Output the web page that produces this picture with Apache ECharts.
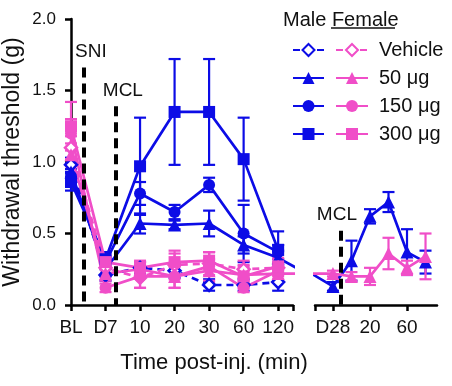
<!DOCTYPE html>
<html>
<head>
<meta charset="utf-8">
<script src="https://cdn.jsdelivr.net/npm/echarts@6/dist/echarts.min.js"></script>
<style>
html,body{margin:0;padding:0;background:#fff;}
#chart{width:452px;height:386px;}
</style>
</head>
<body>
<div id="chart"></div>
<script>
// ---------- data ----------
const leftCats = ['BL', 'D7', '10', '20', '30', '60', '120'];
const leftX = [0, 1, 2, 3, 4, 5, 6];
const rightCats = ['D28', '10', '20', '30', '60', '120'];
const rightX = [0, 1, 2, 3, 4, 5];
const rightLabelX = [0, 2, 4];
const yTicks = [0, 0.5, 1.0, 1.5, 2.0];

const maleVeh = [0.98, 0.21, 0.26, 0.24, 0.14, 0.14, 0.16];
const maleVehErr = [0.05, 0.04, 0.04, 0.05, 0.04, 0.04, 0.06];
const male50 = [0.93, 0.25, 0.57, 0.56, 0.57, 0.42, 0.33];
const male50Err = [0.06, 0.05, 0.07, 0.03, 0.09, 0.06, 0.05];
const male150 = [0.90, 0.30, 0.78, 0.65, 0.84, 0.50, 0.37];
const male150Err = [0.05, 0.04, 0.08, 0.05, 0.05, 0.20, 0.05];
const male300 = [0.86, 0.32, 0.97, 1.35, 1.35, 1.02, 0.385];
const male300Err = [0.06, 0.05, 0.34, 0.37, 0.37, 0.29, 0.13];

const femVeh = [1.10, 0.26, 0.19, 0.28, 0.29, 0.25, 0.26];
const femVehErr = [0.08, 0.06, 0.07, 0.10, 0.08, 0.06, 0.06];
const fem50 = [1.05, 0.22, 0.25, 0.20, 0.24, 0.21, 0.22];
const fem50Err = [0.08, 0.05, 0.05, 0.08, 0.08, 0.06, 0.05];
const fem150 = [1.20, 0.12, 0.20, 0.20, 0.27, 0.12, 0.24];
const fem150Err = [0.10, 0.03, 0.08, 0.08, 0.10, 0.03, 0.06];
const fem300 = [1.25, 0.30, 0.26, 0.30, 0.31, 0.20, 0.27];
const fem300Err = [0.17, 0.05, 0.05, 0.06, 0.06, 0.08, 0.06];

const male50D28 = [0.13, 0.31, 0.62, 0.72, 0.37, 0.30];
const male50D28Err = [0.03, 0.14, 0.05, 0.07, 0.16, 0.08];
const fem50D28 = [0.22, 0.20, 0.20, 0.36, 0.26, 0.34];
const fem50D28Err = [0.02, 0.03, 0.06, 0.11, 0.05, 0.16];

// positions of the neighbouring point across the axis break
const bridgeLeftX = 7.5;   // D28 seen from the left panel
const bridgeRightX = -2.6; // 120 min seen from the right panel

// event markers
const markers = [
  {name: 'SNI', grid: 0, x: 0.375, top: 1.66},
  {name: 'MCL', grid: 0, x: 1.30, top: 1.39},
  {name: 'MCL', grid: 1, x: 0.43, top: 0.52}
];

// ---------- styling ----------
const BLUE = '#0c0ce6';
const PINK = '#f04ec8';
const FONT = 'Liberation Sans, Arial, sans-serif';

const doseNames = ['Vehicle', '50 μg', '150 μg', '300 μg'];
const symbols = ['diamond', 'triangle', 'circle', 'rect'];
const symSizes = [12, 13, 12, 12];

function lineSeries(name, color, k, xs, ys, gridIdx, extra) {
  const hollow = k === 0;
  const data = xs.map((x, i) => [x, ys[i]]);
  if (extra) data.push({value: extra, symbol: 'none'});
  return {
    type: 'line', name: name, xAxisIndex: gridIdx, yAxisIndex: gridIdx,
    data: data, symbol: symbols[k], symbolSize: symSizes[k], clip: true,
    lineStyle: {color: color, width: 2.7, type: hollow ? [7, 5] : 'solid'},
    itemStyle: hollow ? {color: '#fff', borderColor: color, borderWidth: 2.5} : {color: color, borderColor: color, borderWidth: 0},
    color: hollow ? '#fff' : color,
    z: 3, animation: false
  };
}

function errSeries(color, xs, ys, es, gridIdx) {
  return {
    type: 'custom', xAxisIndex: gridIdx, yAxisIndex: gridIdx, z: 2,
    silent: true, animation: false,
    data: xs.map((x, i) => [x, ys[i] - es[i], ys[i] + es[i]]),
    encode: {x: 0, y: [1, 2]},
    renderItem: function (params, api) {
      const x = api.value(0);
      const p1 = api.coord([x, api.value(2)]);
      const p2 = api.coord([x, api.value(1)]);
      const w = 6;
      const st = {stroke: color, lineWidth: 2.2};
      return {type: 'group', children: [
        {type: 'line', shape: {x1: p1[0], y1: p1[1], x2: p2[0], y2: p2[1]}, style: st},
        {type: 'line', shape: {x1: p1[0] - w, y1: p1[1], x2: p1[0] + w, y2: p1[1]}, style: st},
        {type: 'line', shape: {x1: p2[0] - w, y1: p2[1], x2: p2[0] + w, y2: p2[1]}, style: st}
      ]};
    }
  };
}

const maleVals = [maleVeh, male50, male150, male300];
const maleErrs = [maleVehErr, male50Err, male150Err, male300Err];
const femVals = [femVeh, fem50, fem150, fem300];
const femErrs = [femVehErr, fem50Err, fem150Err, fem300Err];

const series = [];
for (let k = 0; k < 4; k++) {
  series.push(errSeries(BLUE, leftX, maleVals[k], maleErrs[k], 0));
  series.push(lineSeries('Male ' + doseNames[k], BLUE, k, leftX, maleVals[k], 0,
    k === 1 ? [bridgeLeftX, male50D28[0]] : null));
}
for (let k = 0; k < 4; k++) {
  series.push(errSeries(PINK, leftX, femVals[k], femErrs[k], 0));
  series.push(lineSeries('Female ' + doseNames[k], PINK, k, leftX, femVals[k], 0,
    k === 1 ? [bridgeLeftX, fem50D28[0]] : null));
}
// right panel
series.push(errSeries(BLUE, rightX, male50D28, male50D28Err, 1));
const rm = lineSeries('Male 50 μg', BLUE, 1, rightX, male50D28, 1, null);
rm.data.unshift({value: [bridgeRightX, male50[6]], symbol: 'none'});
series.push(rm);
series.push(errSeries(PINK, rightX, fem50D28, fem50D28Err, 1));
const rf = lineSeries('Female 50 μg', PINK, 1, rightX, fem50D28, 1, null);
rf.data.unshift({value: [bridgeRightX, fem50[6]], symbol: 'none'});
series.push(rf);

// dashed event lines
[0, 1].forEach(g => {
  series.push({
    type: 'line', xAxisIndex: g, yAxisIndex: g, data: [], silent: true, animation: false,
    markLine: {
      silent: true, animation: false, symbol: ['none', 'none'],
      lineStyle: {color: '#000', width: 4, type: [10, 6]},
      label: {show: true, position: 'start', formatter: '{b}', fontSize: 19, fontFamily: FONT, color: '#111', distance: 6},
      data: markers.filter(m => m.grid === g).map(m => [
        {name: m.name, coord: [m.x, m.top], label: {offset: [m.grid === 0 ? 7 : -4, 0]}},
        {coord: [m.x, 0]}
      ])
    }
  });
});

const axisLineStyle = {color: '#000', width: 2.5};

const option = {
  backgroundColor: '#fff',
  animation: false,
  textStyle: {fontFamily: FONT},
  grid: [
    {left: 70, top: 19, width: 223, height: 286},
    {left: 315, top: 19, width: 122, height: 286}
  ],
  xAxis: [
    {
      type: 'value', gridIndex: 0, min: 0, max: 6.43,
      axisLine: {show: true, onZero: false, lineStyle: axisLineStyle},
      axisTick: {show: true, customValues: leftX.concat([6.43]), length: 6, lineStyle: axisLineStyle},
      axisLabel: {customValues: leftX, formatter: v => leftCats[Math.round(v)], fontSize: 19, color: '#111', margin: 13, fontFamily: FONT},
      splitLine: {show: false}
    },
    {
      type: 'value', gridIndex: 1, min: -0.97, max: 5.62,
      axisLine: {show: true, onZero: false, lineStyle: axisLineStyle},
      axisTick: {show: true, customValues: [-0.97].concat(rightLabelX), length: 6, lineStyle: axisLineStyle},
      axisLabel: {customValues: rightLabelX, formatter: v => rightCats[Math.round(v)], fontSize: 19, color: '#111', margin: 13, fontFamily: FONT},
      splitLine: {show: false}
    }
  ],
  yAxis: [
    {
      type: 'value', gridIndex: 0, min: 0, max: 2, interval: 0.5,
      axisLine: {show: true, lineStyle: axisLineStyle},
      axisTick: {show: true, length: 6, lineStyle: axisLineStyle},
      axisLabel: {formatter: v => v.toFixed(1), fontSize: 17, color: '#111', margin: 15, fontFamily: FONT},
      splitLine: {show: false},
      name: 'Withdrawal threshold (g)', nameLocation: 'middle', nameGap: 47,
      nameTextStyle: {fontSize: 23, color: '#111', fontFamily: FONT}
    },
    {type: 'value', gridIndex: 1, min: 0, max: 2, show: false}
  ],
  legend: [
    {
      data: doseNames.map(d => 'Male ' + d), orient: 'vertical', left: 287, top: 35,
      itemWidth: 31, itemHeight: 15, itemGap: 8, formatter: () => ' ',
      textStyle: {fontSize: 20, lineHeight: 20, fontFamily: FONT}, selectedMode: false
    },
    {
      data: doseNames.map(d => 'Female ' + d), orient: 'vertical', left: 330, top: 35,
      itemWidth: 32, itemHeight: 15, itemGap: 8, formatter: n => n.replace('Female ', ''),
      textStyle: {fontSize: 20, lineHeight: 20, color: '#111', fontFamily: FONT, padding: [0, 0, 0, 6]},
      selectedMode: false
    }
  ],
  graphic: [
    {type: 'text', left: 283, top: 10, style: {text: 'Male Female', fontSize: 20, fontFamily: FONT, fill: '#111'}},
    {type: 'line', shape: {x1: 331, y1: 28, x2: 395, y2: 28}, style: {stroke: '#111', lineWidth: 1.5}},
    {type: 'text', x: 214, y: 363, style: {text: 'Time post-inj. (min)', fontSize: 22, fontFamily: FONT, fill: '#111', align: 'center', verticalAlign: 'middle'}}
  ],
  series: series
};

const chart = echarts.init(document.getElementById('chart'), null, {renderer: 'canvas'});
chart.setOption(option);
</script>
</body>
</html>
